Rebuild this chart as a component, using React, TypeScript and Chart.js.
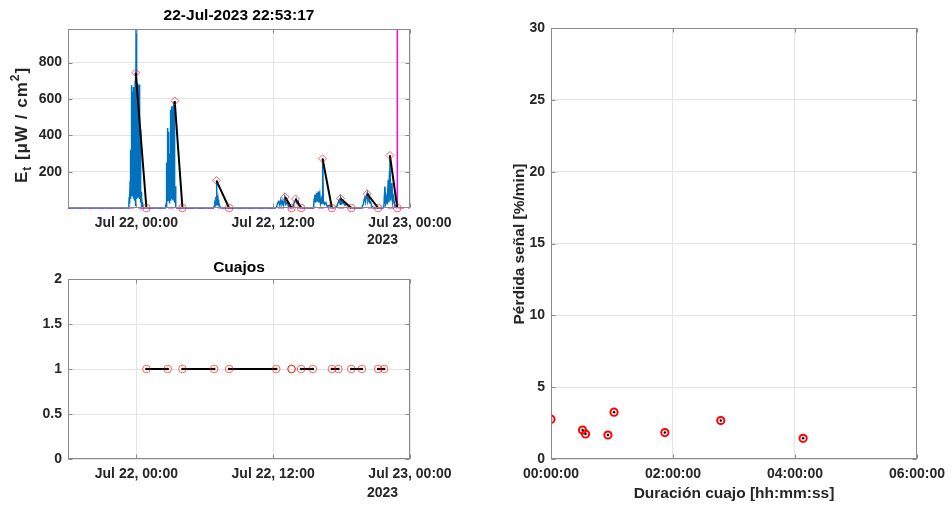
import React, { useEffect, useRef } from "react";
import { Chart, registerables } from "chart.js";
Chart.register(...registerables);

const FONT = "'Liberation Sans', Arial, Helvetica, sans-serif";
const TICK_COLOR = "#262626";
const GRID_COLOR = "#e4e4e4";
const AXIS_COLOR = "#8a8a8a";

// ---------- data ----------
const topTitle = "22-Jul-2023 22:53:17";
const nowHours = 22.888; // hours after Jul 22 00:00
const timeTickValues = [0, 12, 24];
const timeTickLabels = ["Jul 22, 00:00", "Jul 22, 12:00", "Jul 23, 00:00"];
const yearLabel = "2023";
const irrTicks = [200, 400, 600, 800];

// irradiance signal [hours after Jul 22 00:00, µW/cm²]
const signal: [number, number][] = [
  [-6, 0], [-0.7, 0], [-0.66, 20], [-0.63, 60], [-0.61, 25], [-0.59, 82], [-0.57, 40], [-0.55, 150],
  [-0.53, 50], [-0.51, 320], [-0.49, 60], [-0.47, 180], [-0.45, 65], [-0.43, 260], [-0.41, 70],
  [-0.39, 676], [-0.37, 75], [-0.35, 560], [-0.33, 70], [-0.31, 640], [-0.29, 80], [-0.27, 600],
  [-0.25, 70], [-0.23, 666], [-0.21, 60], [-0.19, 520], [-0.17, 65], [-0.15, 640], [-0.13, 40],
  [-0.11, 700], [-0.09, 10], [-0.07, 744], [-0.05, 30], [-0.03, 985], [-0.01, 60], [0.01, 429],
  [0.03, 50], [0.05, 380], [0.07, 60], [0.09, 420], [0.11, 70], [0.13, 685], [0.15, 75], [0.17, 600],
  [0.19, 70], [0.21, 676], [0.23, 80], [0.25, 640], [0.27, 70], [0.29, 680], [0.31, 50], [0.33, 430],
  [0.35, 40], [0.37, 200], [0.39, 30], [0.42, 90], [0.45, 15], [0.5, 30], [0.55, 5], [0.6, 0],
  [2.55, 0], [2.6, 20], [2.63, 45], [2.65, 15], [2.67, 250], [2.69, 40], [2.71, 440], [2.73, 50],
  [2.75, 380], [2.77, 45], [2.79, 420], [2.81, 55], [2.83, 400], [2.85, 40], [2.87, 300], [2.89, 30],
  [2.91, 150], [2.93, 25], [2.95, 200], [2.97, 40], [2.99, 420], [3.01, 50], [3.03, 540], [3.05, 55],
  [3.07, 500], [3.09, 60], [3.11, 560], [3.13, 55], [3.15, 530], [3.17, 50], [3.19, 500], [3.21, 60],
  [3.23, 560], [3.25, 45], [3.27, 584], [3.29, 50], [3.31, 570], [3.33, 40], [3.35, 589], [3.37, 30],
  [3.4, 120], [3.43, 20], [3.47, 5], [3.52, 0],
  [6.75, 0], [6.82, 10], [6.88, 25], [6.93, 15], [6.97, 60], [7.0, 20], [7.02, 151], [7.04, 30],
  [7.07, 100], [7.09, 25], [7.12, 56], [7.14, 20], [7.17, 45], [7.2, 15], [7.24, 30], [7.3, 10],
  [7.4, 3], [7.5, 0],
  [12.2, 0], [12.29, 5], [12.41, 30], [12.49, 36], [12.58, 15], [12.67, 45], [12.76, 20], [12.82, 35],
  [12.91, 15], [13.02, 61], [13.11, 20], [13.22, 30], [13.34, 10], [13.46, 15], [13.61, 3], [13.75, 10],
  [13.84, 30], [13.93, 40], [14.0, 50], [14.1, 25], [14.19, 35], [14.28, 15], [14.4, 10], [14.54, 0],
  [15.5, 0], [15.55, 5], [15.59, 50], [15.65, 73], [15.71, 30], [15.8, 82], [15.86, 35], [15.94, 91],
  [16.0, 30], [16.09, 73], [16.15, 25], [16.24, 50], [16.29, 25], [16.34, 275], [16.4, 40], [16.51, 20],
  [16.62, 30], [16.73, 10], [16.91, 15], [17.12, 5], [17.25, 0],
  [17.56, 5], [17.7, 30], [17.79, 45], [17.88, 20], [17.93, 52], [18.05, 25], [18.14, 30], [18.29, 15],
  [18.44, 20], [18.73, 8], [18.88, 3], [19.03, 0],
  [19.75, 0], [19.9, 20], [19.99, 50], [20.04, 64], [20.1, 35], [20.19, 70], [20.25, 82], [20.31, 40],
  [20.4, 60], [20.46, 30], [20.55, 35], [20.63, 10], [20.78, 3], [20.92, 0],
  [21.6, 0], [21.71, 10], [21.8, 118], [21.86, 30], [21.95, 60], [22.0, 20], [22.09, 155], [22.15, 30],
  [22.2, 200], [22.24, 289], [22.3, 40], [22.42, 137], [22.47, 30], [22.56, 60], [22.65, 15],
  [22.77, 5], [22.888, 0],
];

// detected peaks (diamonds)
const peakTimes = [-0.06, 3.36, 7.02, 13.05, 13.96, 16.33, 17.91, 20.25, 22.24];
const peakValues = [744, 589, 151, 61, 50, 271, 52, 78, 289];

// cuajos
const cuajoStart = [0.88, 4.04, 8.13, 13.61, 14.45, 17.15, 18.85, 21.21]; // hours after Jul 22 00:00
const cuajoDurationMin = [112, 167, 248, 0, 62, 34, 56, 31];
const cuajoLossRate = [1.84, 2.68, 1.44, 2.77, 3.26, 1.74, 1.67, 2.02]; // %/min

const peakEndTimes = [...cuajoStart, nowHours];

// ---------- helpers ----------
const tickFont = { family: FONT, size: 14, weight: "bold" as const };

function timeLabel(v: number) {
  const i = timeTickValues.indexOf(Number(v));
  return i >= 0 ? timeTickLabels[i] : "";
}
function pad(n: number) {
  return String(n).padStart(2, "0");
}
function hms(min: number) {
  const h = Math.floor(min / 60);
  const m = Math.round(min % 60);
  return `${pad(h)}:${pad(m)}:00`;
}

type Txt = { text: string; x: number; y: number; size: number; color?: string; rotate?: boolean; align?: CanvasTextAlign };

function drawEt(ctx: CanvasRenderingContext2D, bx: number, cy: number) {
  const big = `bold 17px ${FONT}`;
  const small = `bold 12px ${FONT}`;
  const parts = [
    { t: "E", f: big, dy: 0 },
    { t: "t", f: small, dy: 4 },
    { t: " [", f: big, dy: 0 },
    { t: "\u03bc", f: big, dy: 0 },
    { t: "W / cm", f: big, dy: 0 },
    { t: "2", f: small, dy: -8 },
    { t: "]", f: big, dy: 0 },
  ];
  const c: any = ctx;
  ctx.save();
  c.letterSpacing = "1px";
  let total = 0;
  for (const p of parts) {
    ctx.font = p.f;
    total += ctx.measureText(p.t).width;
  }
  ctx.translate(bx, cy);
  ctx.rotate(-Math.PI / 2);
  ctx.fillStyle = TICK_COLOR;
  ctx.textAlign = "left";
  ctx.textBaseline = "alphabetic";
  let x = -total / 2;
  for (const p of parts) {
    ctx.font = p.f;
    ctx.fillText(p.t, x, p.dy);
    x += ctx.measureText(p.t).width;
  }
  ctx.restore();
}

function decor(texts: Txt[], etLabel?: { x: number; y: number }) {
  return {
    id: "decor",
    afterDraw(chart: any) {
      const { ctx, chartArea: a, scales } = chart;
      ctx.save();
      ctx.strokeStyle = AXIS_COLOR;
      ctx.lineWidth = 1;
      const L = Math.round(a.left) + 0.5, R = Math.round(a.right) - 0.5;
      const T = Math.round(a.top) + 0.5, B = Math.round(a.bottom) - 0.5;
      ctx.strokeRect(L, T, R - L, B - T);
      const tl = 4;
      ctx.beginPath();
      for (const t of scales.x.ticks) {
        const px = Math.round(scales.x.getPixelForValue(t.value)) + 0.5;
        ctx.moveTo(px, B); ctx.lineTo(px, B - tl);
        ctx.moveTo(px, T); ctx.lineTo(px, T + tl);
      }
      for (const t of scales.y.ticks) {
        const py = Math.round(scales.y.getPixelForValue(t.value)) + 0.5;
        ctx.moveTo(L, py); ctx.lineTo(L + tl, py);
        ctx.moveTo(R, py); ctx.lineTo(R - tl, py);
      }
      ctx.stroke();
      for (const t of texts) {
        ctx.save();
        ctx.font = `bold ${t.size}px ${FONT}`;
        ctx.fillStyle = t.color || TICK_COLOR;
        ctx.textAlign = t.align || "center";
        ctx.textBaseline = "middle";
        ctx.translate(t.x, t.y);
        if (t.rotate) ctx.rotate(-Math.PI / 2);
        ctx.fillText(t.text, 0, 0);
        ctx.restore();
      }
      if (etLabel) drawEt(ctx, etLabel.x, etLabel.y);
      ctx.restore();
    },
  };
}

const baseOpts = {
  animation: false as const,
  responsive: false,
  maintainAspectRatio: false,
  devicePixelRatio: 1,
  events: [] as any[],
  plugins: { legend: { display: false }, tooltip: { enabled: false }, title: { display: false } },
};

function timeAxis(height: number) {
  return {
    type: "linear" as const,
    min: -6,
    max: 24,
    afterBuildTicks: (s: any) => { s.ticks = timeTickValues.map((v) => ({ value: v })); },
    afterFit: (s: any) => { s.height = height; },
    ticks: { callback: (v: any) => timeLabel(v), font: tickFont, color: TICK_COLOR, padding: 7, maxRotation: 0, autoSkip: false },
    grid: { color: GRID_COLOR, drawTicks: false },
    border: { display: false },
  };
}

function cfgTop(): any {
  const blue = signal.map(([x, y]) => ({ x, y }));
  const seg: any[] = [];
  peakTimes.forEach((t, i) => {
    seg.push({ x: t, y: peakValues[i] }, { x: peakEndTimes[i], y: 0 }, { x: peakEndTimes[i], y: null });
  });
  return {
    type: "scatter",
    data: {
      datasets: [
        { data: peakTimes.map((t, i) => ({ x: t, y: peakValues[i] })), pointStyle: "rectRot", pointRadius: 4, borderColor: "rgba(255,0,0,0.6)", backgroundColor: "rgba(0,0,0,0)", borderWidth: 1, showLine: false, order: 1, clip: false },
        { data: peakEndTimes.map((t) => ({ x: t, y: 0 })), pointStyle: "circle", pointRadius: 3.8, borderColor: "rgba(255,0,0,0.6)", backgroundColor: "rgba(0,0,0,0)", borderWidth: 1, showLine: false, order: 1, clip: false },
        { data: seg, showLine: true, spanGaps: false, borderColor: "#000", borderWidth: 2, pointRadius: 0, order: 2, clip: false },
        { data: [{ x: nowHours, y: 0 }, { x: nowHours, y: 985 }], showLine: true, borderColor: "#ff00ff", borderWidth: 1.5, pointRadius: 0, order: 3, clip: false },
        { data: [{ x: -6, y: 0 }, { x: 24, y: 0 }], showLine: true, borderColor: "#ff00ff", borderDash: [6, 4], borderWidth: 1.2, pointRadius: 0, order: 3, clip: false },
        { data: blue, showLine: true, borderColor: "#0072BD", borderWidth: 1.5, pointRadius: 0, order: 4, clip: false },
      ],
    },
    options: {
      ...baseOpts,
      layout: { padding: { left: 0, right: 66, top: 29, bottom: 0 } },
      scales: {
        x: timeAxis(46),
        y: {
          type: "linear", min: 0, max: 985,
          afterBuildTicks: (s: any) => { s.ticks = irrTicks.map((v) => ({ value: v })); },
          afterFit: (s: any) => { s.width = 68; },
          ticks: { font: tickFont, color: TICK_COLOR, padding: 6, callback: (v: any) => String(v) },
          grid: { color: GRID_COLOR, drawTicks: false },
          border: { display: false },
        },
      },
    },
    plugins: [decor([
      { text: topTitle, x: 239, y: 16, size: 15.5, color: "#000" },
      { text: yearLabel, x: 367, y: 240, size: 14, align: "left" },
    ], { x: 27, y: 125 })],
  };
}

function cfgCuajos(): any {
  const seg: any[] = [];
  const circles: any[] = [];
  cuajoStart.forEach((s, i) => {
    const e = s + cuajoDurationMin[i] / 60;
    if (cuajoDurationMin[i] > 0) seg.push({ x: s, y: 1 }, { x: e, y: 1 }, { x: e, y: null });
    circles.push({ x: s, y: 1 }, { x: e, y: 1 });
  });
  return {
    type: "scatter",
    data: {
      datasets: [
        { data: circles, pointStyle: "circle", pointRadius: 3.8, borderColor: "rgba(255,0,0,0.6)", backgroundColor: "rgba(0,0,0,0)", borderWidth: 1, showLine: false, order: 1 },
        { data: seg, showLine: true, spanGaps: false, borderColor: "#000", borderWidth: 2, pointRadius: 1.3, pointBackgroundColor: "#000", pointBorderColor: "#000", pointBorderWidth: 0, order: 2 },
      ],
    },
    options: {
      ...baseOpts,
      layout: { padding: { left: 0, right: 66, top: 25, bottom: 0 } },
      scales: {
        x: timeAxis(50),
        y: {
          type: "linear", min: 0, max: 2,
          afterFit: (s: any) => { s.width = 68; },
          ticks: { stepSize: 0.5, font: tickFont, color: TICK_COLOR, padding: 6, callback: (v: any) => String(v) },
          grid: { color: GRID_COLOR, drawTicks: false },
          border: { display: false },
        },
      },
    },
    plugins: [decor([
      { text: "Cuajos", x: 239, y: 13.5, size: 15.5, color: "#000" },
      { text: yearLabel, x: 367, y: 239.5, size: 14, align: "left" },
    ])],
  };
}

function cfgRight(): any {
  const pts = cuajoDurationMin.map((d, i) => ({ x: d, y: cuajoLossRate[i] }));
  return {
    type: "scatter",
    data: {
      datasets: [
        { data: pts, pointStyle: "circle", pointRadius: 1.2, backgroundColor: "#000", borderColor: "#000", borderWidth: 0, order: 1 },
        { data: pts, pointStyle: "circle", pointRadius: 3.6, borderColor: "#ff0000", backgroundColor: "rgba(0,0,0,0)", borderWidth: 2, order: 2 },
      ],
    },
    options: {
      ...baseOpts,
      layout: { padding: { left: 0, right: 35, top: 28, bottom: 0 } },
      scales: {
        x: {
          type: "linear", min: 0, max: 360,
          afterFit: (s: any) => { s.height = 50; },
          ticks: { stepSize: 120, font: tickFont, color: TICK_COLOR, padding: 7, maxRotation: 0, callback: (v: any) => hms(Number(v)) },
          grid: { color: GRID_COLOR, drawTicks: false },
          border: { display: false },
        },
        y: {
          type: "linear", min: 0, max: 30,
          afterFit: (s: any) => { s.width = 75; },
          ticks: { stepSize: 5, font: tickFont, color: TICK_COLOR, padding: 6, callback: (v: any) => String(v) },
          grid: { color: GRID_COLOR, drawTicks: false },
          border: { display: false },
        },
      },
    },
    plugins: [decor([
      { text: "P\u00e9rdida se\u00f1al [%/min]", x: 44, y: 244, size: 15.5, rotate: true },
      { text: "Duraci\u00f3n cuajo [hh:mm:ss]", x: 258, y: 494, size: 15.5 },
    ])],
  };
}

export default function App() {
  const r1 = useRef<HTMLCanvasElement>(null);
  const r2 = useRef<HTMLCanvasElement>(null);
  const r3 = useRef<HTMLCanvasElement>(null);
  useEffect(() => {
    const charts = [
      new Chart(r1.current as HTMLCanvasElement, cfgTop()),
      new Chart(r2.current as HTMLCanvasElement, cfgCuajos()),
      new Chart(r3.current as HTMLCanvasElement, cfgRight()),
    ];
    return () => charts.forEach((c) => c.destroy());
  }, []);
  return (
    <div style={{ position: "absolute", left: 0, top: 0, width: 952, height: 509, background: "#fff" }}>
      <canvas ref={r1} width={476} height={254} style={{ position: "absolute", left: 0, top: 0, width: 476, height: 254 }} />
      <canvas ref={r2} width={476} height={255} style={{ position: "absolute", left: 0, top: 254, width: 476, height: 255 }} />
      <canvas ref={r3} width={476} height={509} style={{ position: "absolute", left: 476, top: 0, width: 476, height: 509 }} />
    </div>
  );
}
